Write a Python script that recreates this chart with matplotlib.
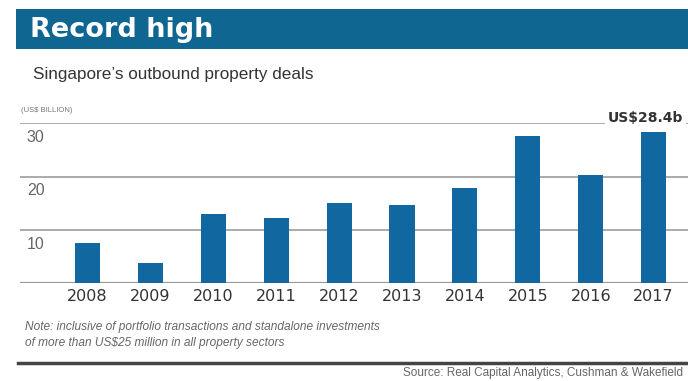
import matplotlib
matplotlib.use("Agg")
import matplotlib.pyplot as plt
from matplotlib.patches import Rectangle

years = ["2008", "2009", "2010", "2011", "2012", "2013", "2014", "2015", "2016", "2017"]
deals = [7.5, 3.7, 12.9, 12.2, 15.0, 14.6, 17.8, 27.7, 20.2, 28.4]
y_ticks = [10, 20, 30]
title = "Record high"
subtitle = "Singapore\u2019s outbound property deals"
unit = "(US$ BILLION)"
peak_label = "US$28.4b"
note = ("Note: inclusive of portfolio transactions and standalone investments\n"
        "of more than US$25 million in all property sectors")
source = "Source: Real Capital Analytics, Cushman & Wakefield"

W, H = 688, 381
fig = plt.figure(figsize=(W / 100, H / 100), dpi=100)
fig.patch.set_facecolor("white")

def fx(px):
    return px / W

def fy(py):
    return 1 - py / H

# header band
fig.patches.append(Rectangle((fx(16), fy(49)), fx(688 - 16), (49 - 9) / H,
                             transform=fig.transFigure, facecolor="#0e6691",
                             edgecolor="none", zorder=0))
fig.text(fx(30), fy(30), title, color="white", fontsize=19.5, fontweight="bold",
         family="DejaVu Sans", va="center", ha="left")
fig.text(fx(33), fy(75), subtitle, color="#333333", fontsize=12.3,
         family="Liberation Sans", va="center", ha="left")
fig.text(fx(21), fy(110), unit, color="#777777", fontsize=5.5,
         family="Liberation Sans", va="center", ha="left")

# chart area
ax = fig.add_axes([fx(20), fy(283), fx(688 - 20), (283 - 123.3) / H])
x = list(range(len(years)))
ax.bar(x, deals, width=0.4, color="#1168a0", zorder=2)
ax.set_xlim(-1.073, 9.547)
ax.set_ylim(0, 30)
for s in ax.spines.values():
    s.set_visible(False)
ax.set_yticks([])
ax.set_xticks(x)
ax.set_xticklabels(years, fontsize=11.5, color="#333333", family="DejaVu Sans")
ax.tick_params(axis="x", length=0, pad=4)

ax.axhline(0, color="#999999", lw=1.6, zorder=1)
for v in y_ticks:
    ax.axhline(v, color="#aaaaaa", lw=1.4, zorder=1)
    ax.annotate(str(v), xy=(-1.073, v), xytext=(5, -5), textcoords="offset points",
                ha="left", va="top", fontsize=11.5, color="#666666",
                family="Liberation Sans")

# value label on the peak bar
ax.annotate(peak_label, xy=(9, deals[-1]), xytext=(-6, 5), textcoords="offset points",
            ha="center", va="bottom", fontsize=10, fontweight="bold",
            color="#333333", family="DejaVu Sans", zorder=4,
            bbox=dict(boxstyle="square,pad=0.2", facecolor="white", edgecolor="none"),
            annotation_clip=False)

fig.text(fx(25), fy(335), note, color="#666666", fontsize=8.6, style="italic",
         family="Liberation Sans", va="center", ha="left", linespacing=1.35)

fig.lines.append(plt.Line2D([fx(18), fx(688)], [fy(363), fy(363)],
                            transform=fig.transFigure, color="#444444", lw=2.5))
fig.text(fx(683), fy(373), source, color="#666666", fontsize=8.5,
         family="Liberation Sans", va="center", ha="right")

fig.savefig("out.png", dpi=100)
